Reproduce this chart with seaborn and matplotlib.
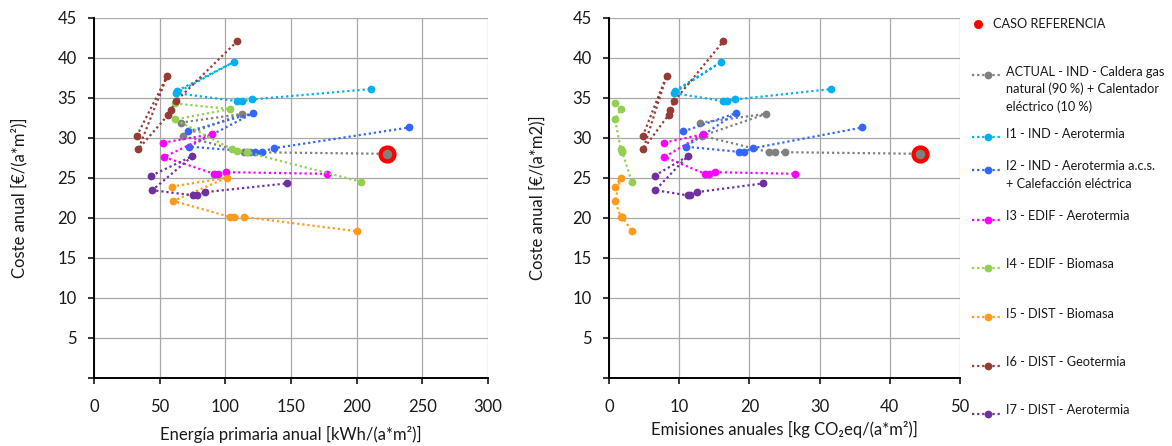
import matplotlib
matplotlib.use("Agg")
import numpy as np
import pandas as pd
import seaborn as sns
import matplotlib.pyplot as plt
from matplotlib.lines import Line2D

# ---------------- data ----------------
series = ["ACTUAL", "I1", "I2", "I3", "I4", "I5", "I6", "I7"]
labels = [
    "ACTUAL - IND - Caldera gas\nnatural (90 %) + Calentador\neléctrico (10 %)",
    "I1 - IND - Aerotermia",
    "I2 - IND - Aerotermia a.c.s.\n+ Calefacción eléctrica",
    "I3 - EDIF - Aerotermia",
    "I4 - EDIF - Biomasa",
    "I5 - DIST - Biomasa",
    "I6 - DIST - Geotermia",
    "I7 - DIST - Aerotermia",
]
colors = ["#808080", "#00B0F0", "#3366FF", "#FF00FF", "#92D050",
          "#FF9A1A", "#963C37", "#7030A0"]

# Primary energy [kWh/(a*m2)] per series (left chart)
energia_actual = [66.0, 113.0, 67.5, 114.5, 116.5, 119.0, 223.0]
energia_i1 = [63.4, 106.6, 62.5, 108.7, 113.0, 120.1, 210.7]
energia_i2 = [71.4, 121.3, 72.4, 122.6, 127.7, 137.1, 240.1]
energia_i3 = [52.8, 89.6, 53.3, 91.4, 94.7, 100.5, 177.2]
energia_i4 = [61.7, 103.6, 61.7, 104.9, 108.7, 116.3, 203.4]
energia_i5 = [59.2, 101.0, 60.4, 103.6, 106.9, 114.2, 200.5]
energia_i6 = [32.5, 55.8, 33.8, 56.6, 58.4, 62.5, 109.1]
energia_i7 = [43.4, 74.9, 44.4, 75.6, 78.7, 84.5, 147.2]

# Emissions [kg CO2eq/(a*m2)] per series (right chart)
emis_actual = [13.0, 22.4, 13.3, 22.8, 23.6, 25.1, 44.3]
emis_i1 = [9.4, 16.0, 9.2, 16.3, 16.8, 18.0, 31.6]
emis_i2 = [10.6, 18.1, 10.9, 18.5, 19.2, 20.5, 36.1]
emis_i3 = [7.9, 13.4, 7.9, 13.7, 14.2, 15.1, 26.5]
emis_i4 = [0.86, 1.67, 0.86, 1.67, 1.8, 1.9, 3.24]
emis_i5 = [0.86, 1.67, 0.86, 1.67, 1.8, 1.9, 3.24]
emis_i6 = [4.8, 8.2, 4.9, 8.5, 8.7, 9.3, 16.3]
emis_i7 = [6.5, 11.2, 6.6, 11.2, 11.6, 12.5, 22.0]

# Annual cost [€/(a*m2)] per series (both charts)
coste_actual = [31.9, 33.0, 30.25, 28.2, 28.2, 28.2, 28.0]
coste_i1 = [35.9, 39.5, 35.6, 34.6, 34.6, 34.8, 36.1]
coste_i2 = [30.8, 33.1, 28.9, 28.25, 28.25, 28.7, 31.3]
coste_i3 = [29.4, 30.45, 27.6, 25.5, 25.5, 25.7, 25.5]
coste_i4 = [34.3, 33.6, 32.3, 28.6, 28.4, 28.2, 24.5]
coste_i5 = [23.9, 25.0, 22.1, 20.1, 20.1, 20.1, 18.3]
coste_i6 = [30.2, 37.75, 28.6, 32.9, 33.5, 34.6, 42.1]
coste_i7 = [25.25, 27.7, 23.45, 22.8, 22.8, 23.2, 24.3]

# Reference case
ref_energia = [223.0]
ref_emis = [44.3]
ref_coste = [28.0]

energia = [energia_actual, energia_i1, energia_i2, energia_i3,
           energia_i4, energia_i5, energia_i6, energia_i7]
emis = [emis_actual, emis_i1, emis_i2, emis_i3,
        emis_i4, emis_i5, emis_i6, emis_i7]
coste = [coste_actual, coste_i1, coste_i2, coste_i3,
         coste_i4, coste_i5, coste_i6, coste_i7]

rows = []
for s, ex, mx, cy in zip(series, energia, emis, coste):
    for i, (a, b, c) in enumerate(zip(ex, mx, cy)):
        rows.append({"serie": s, "orden": i, "energia": a, "emisiones": b, "coste": c})
df = pd.DataFrame(rows)
ref_df = pd.DataFrame({"energia": ref_energia, "emisiones": ref_emis, "coste": ref_coste})

# ---------------- style ----------------
sns.set_theme(style="white")
plt.rcParams["font.family"] = ["Lato", "DejaVu Sans"]
plt.rcParams["axes.unicode_minus"] = False

W, H = 1172, 446
fig = plt.figure(figsize=(W / 100, H / 100), dpi=100)

def px_axes(x0, x1, y0, y1):
    return fig.add_axes([x0 / W, 1 - y1 / H, (x1 - x0) / W, (y1 - y0) / H])

axL = px_axes(94, 488, 18, 377.5)
axR = px_axes(609, 960, 18, 377.5)

dot_ls = (0, (1.0, 1.3))
LW = 1.6
MS = 5.6

for ax, xcol, xmax, xstep, refx in [
    (axL, "energia", 300, 50, "energia"),
    (axR, "emisiones", 50, 10, "emisiones"),
]:
    for s, c in zip(series, colors):
        sub = df[df["serie"] == s]
        sns.lineplot(data=sub, x=xcol, y="coste", sort=False, estimator=None,
                     color=c, marker="o", markersize=MS, markeredgewidth=0,
                     linewidth=LW, linestyle=dot_ls, ax=ax, legend=False,
                     zorder=2)
    sns.scatterplot(data=ref_df, x=refx, y="coste", ax=ax, s=100,
                    color="#808080", edgecolor="#FF0000", linewidth=3.1,
                    zorder=4, legend=False)

    ax.set_xlim(0, xmax)
    ax.set_ylim(0, 45)
    ax.set_xticks(np.arange(0, xmax + 1, xstep))
    ax.set_yticks(np.arange(0, 46, 5))
    ax.set_yticklabels([""] + [str(v) for v in range(5, 46, 5)])
    ax.grid(True, color="#A8A8A8", linewidth=0.9)
    ax.set_axisbelow(True)
    for side in ["top", "right"]:
        ax.spines[side].set_visible(False)
    for side in ["left", "bottom"]:
        ax.spines[side].set_visible(True)
        ax.spines[side].set_color("black")
        ax.spines[side].set_linewidth(1.4)
    ax.tick_params(axis="both", which="major", direction="out", length=4.5,
                   width=1.1, color="black", labelsize=12, labelcolor="#1a1a1a",
                   left=True, bottom=True)
    ax.tick_params(axis="x", pad=11)
    ax.tick_params(axis="y", pad=8)

axL.set_xlabel("Energía primaria anual [kWh/(a*m²)]", fontsize=12, color="#1a1a1a")
axL.set_ylabel("Coste anual [€/(a*m²)]", fontsize=12, color="#1a1a1a")
axR.set_xlabel("Emisiones anuales [kg CO₂eq/(a*m²)]", fontsize=12, color="#1a1a1a")
axR.set_ylabel("Coste anual [€/(a*m2)]", fontsize=12, color="#1a1a1a")
axL.xaxis.set_label_coords(0.5, -0.135)
axR.xaxis.set_label_coords(0.5, -0.12)
axL.yaxis.set_label_coords(-0.17, 0.5)
axR.yaxis.set_label_coords(-0.18, 0.5)

# ---------------- legend (right side) ----------------
def fx(x):
    return x / W

def fy(y):
    return 1 - y / H

LFS = 9.2
# CASO REFERENCIA entry
fig.add_artist(Line2D([fx(978)], [fy(24)], marker="o", color="#FF0000",
                      markersize=6.5, markeredgewidth=0, linestyle="none"))
fig.text(fx(993), fy(24), "CASO REFERENCIA", fontsize=LFS, va="center",
         ha="left", color="#1a1a1a")

leg_y = [75, 137, 170, 220, 268, 317, 366, 414]
for lab, c, y in zip(labels, colors, leg_y):
    fig.add_artist(Line2D([fx(972), fx(1000)], [fy(y), fy(y)], color=c,
                          linewidth=LW, linestyle=dot_ls))
    fig.add_artist(Line2D([fx(988)], [fy(y)], marker="o", color=c,
                          markersize=MS, markeredgewidth=0, linestyle="none"))
    fig.text(fx(1006), fy(y - 9.5), lab, fontsize=LFS, va="top", ha="left",
             color="#1a1a1a", linespacing=1.5)

fig.savefig("out.png", dpi=100, facecolor="white")
